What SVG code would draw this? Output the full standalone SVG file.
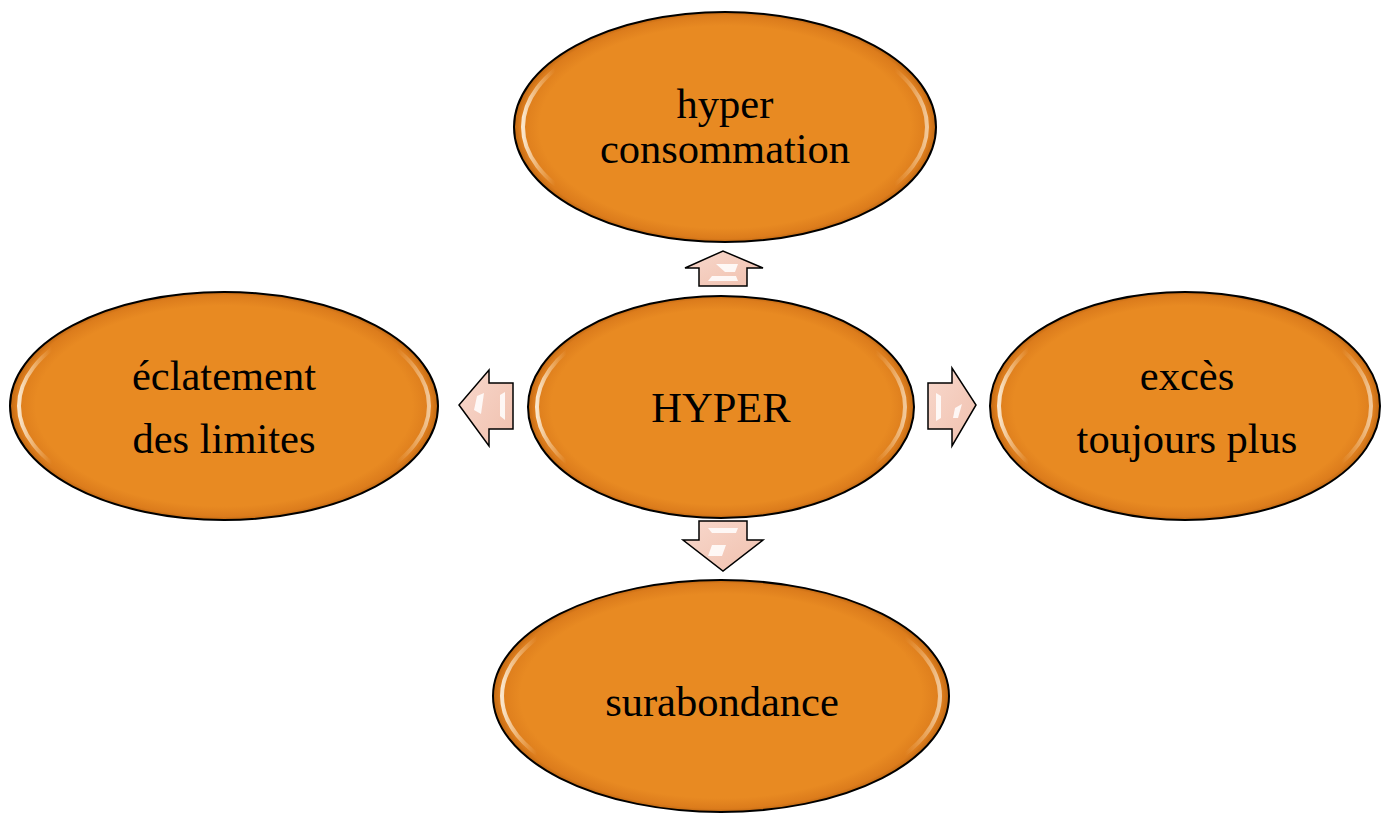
<svg xmlns="http://www.w3.org/2000/svg" width="1387" height="815" viewBox="0 0 1387 815">
  <style>
    .node { fill: url(#orange); stroke: #000; stroke-width: 2; }
    .gloss { fill: none; stroke: url(#glow); stroke-width: 4; }
    .label { font-family: "Liberation Serif", "Times New Roman", serif; font-size: 42.5px; fill: #000; text-anchor: middle; }
    .arrow { fill: url(#pink); stroke: #000; stroke-width: 1.5; stroke-linejoin: miter; }
    .shine { fill: #fff; opacity: 0.85; }
  </style>
  <defs>
    <radialGradient id="orange" cx="50%" cy="50%" r="50%">
      <stop offset="0" stop-color="#e88a22"/>
      <stop offset="0.88" stop-color="#e88a22"/>
      <stop offset="0.97" stop-color="#dc7c1c"/>
      <stop offset="1" stop-color="#c06812"/>
    </radialGradient>
    <linearGradient id="glow" x1="0" y1="0" x2="1" y2="0">
      <stop offset="0" stop-color="#fff8ea" stop-opacity="0.85"/>
      <stop offset="0.08" stop-color="#ffe0b0" stop-opacity="0"/>
      <stop offset="0.92" stop-color="#ffe0b0" stop-opacity="0"/>
      <stop offset="1" stop-color="#fff8ea" stop-opacity="0.6"/>
    </linearGradient>
    <linearGradient id="pink" x1="0" y1="0" x2="1" y2="1">
      <stop offset="0" stop-color="#f8d8cc"/>
      <stop offset="1" stop-color="#f0c0ae"/>
    </linearGradient>
  </defs>

  <!-- connectors: block arrows from the centre outward -->
  <g id="connectors">
    <g id="arrow-up">
      <path class="arrow" d="M699,286 L699,268 L685,268 L723,251 L763,268 L747,268 L747,286 Z"/>
      <path class="shine" d="M716,264 L738,264 L735,272 L725,272 Z" opacity="0.6"/>
      <path class="shine" d="M708,281 L738,281 L736,276 L712,276 Z" opacity="0.6"/>
    </g>
    <g id="arrow-down">
      <path class="arrow" d="M699,521 L747,521 L747,540 L763,540 L723,571 L683,540 L699,540 Z"/>
      <path class="shine" d="M708,528 L738,528 L736,533 L712,533 Z" opacity="0.6"/>
      <path class="shine" d="M712,545 L726,545 L722,556 L708,556 Z" opacity="0.7"/>
    </g>
    <g id="arrow-left">
      <path class="arrow" d="M513,383 L513,429 L489,429 L489,446 L459,405 L489,370 L489,383 Z"/>
      <path class="shine" d="M477,396 L484,393 L481,414 L474,410 Z" opacity="0.7"/>
      <path class="shine" d="M500,395 L505,392 L505,420 L500,416 Z" opacity="0.7"/>
    </g>
    <g id="arrow-right">
      <path class="arrow" d="M928,383 L952,383 L952,368 L976,405 L952,446 L952,429 L928,429 Z"/>
      <path class="shine" d="M936,393 L941,396 L941,418 L936,421 Z" opacity="0.7"/>
      <path class="shine" d="M955,408 L962,404 L958,418 L953,418 Z" opacity="0.7"/>
    </g>
  </g>

  <g id="node-top">
    <ellipse class="node" cx="725" cy="127" rx="211" ry="115"/>
    <ellipse class="gloss" cx="725" cy="127" rx="202" ry="106"/>
    <text class="label" x="725" y="118">hyper</text>
    <text class="label" x="725" y="163">consommation</text>
  </g>

  <g id="node-center">
    <ellipse class="node" cx="721" cy="407" rx="193" ry="111"/>
    <ellipse class="gloss" cx="721" cy="407" rx="184" ry="102"/>
    <text class="label" x="721" y="422">HYPER</text>
  </g>

  <g id="node-left">
    <ellipse class="node" cx="224" cy="406" rx="214" ry="114"/>
    <ellipse class="gloss" cx="224" cy="406" rx="205" ry="105"/>
    <text class="label" x="224" y="390">éclatement</text>
    <text class="label" x="224" y="453">des limites</text>
  </g>

  <g id="node-right">
    <ellipse class="node" cx="1185" cy="406" rx="195" ry="114"/>
    <ellipse class="gloss" cx="1185" cy="406" rx="186" ry="105"/>
    <text class="label" x="1187" y="390">excès</text>
    <text class="label" x="1187" y="453">toujours plus</text>
  </g>

  <g id="node-bottom">
    <ellipse class="node" cx="721" cy="696" rx="228" ry="116"/>
    <ellipse class="gloss" cx="721" cy="696" rx="219" ry="107"/>
    <text class="label" x="722" y="716">surabondance</text>
  </g>
</svg>
